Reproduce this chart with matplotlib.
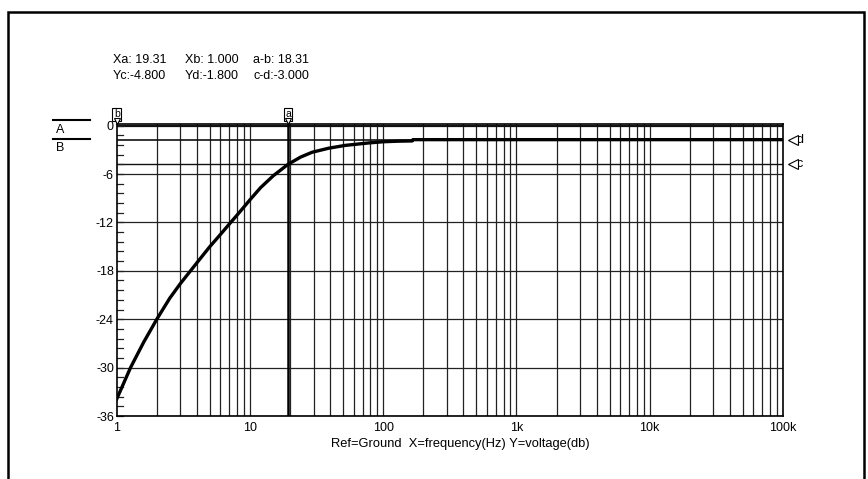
import matplotlib
matplotlib.use("Agg")
import matplotlib.pyplot as plt
import matplotlib.transforms as mtransforms
import numpy as np
from matplotlib.patches import Rectangle

plt.rcParams['font.family'] = ['Liberation Sans', 'DejaVu Sans']

# curve: frequency (Hz) and voltage (dB)
freq = [1, 1.27, 1.6, 2, 2.5, 3, 4, 5, 6, 7, 8, 10, 12, 15, 19.31,
        24, 29.3, 39, 52, 77.6, 100, 130, 165, 167, 1000, 10000, 100000]
volt = [-33.9, -30.0, -26.8, -24.0, -21.4, -19.6, -17.0, -15.0, -13.5, -12.2, -11.1, -9.2, -7.7, -6.2, -4.8,
        -3.9, -3.3, -2.8, -2.45, -2.15, -2.0, -1.93, -1.9, -1.74, -1.74, -1.74, -1.74]

# cursors
xa, xb = 19.31, 1.0
yc, yd = -4.8, -1.8

y_ticks = [0, -6, -12, -18, -24, -30, -36]
x_ticks = [1, 10, 100, 1000, 10000, 100000]
x_labels = ['1', '10', '100', '1k', '10k', '100k']

W, H = 868, 479
fig = plt.figure(figsize=(W / 100, H / 100), dpi=100)
ax = fig.add_axes([116.7 / W, 63 / H, 666.3 / W, 292 / H])

ax.set_xscale('log')
ax.set_xlim(1, 100000)
ax.set_ylim(-36, 0.2)

# grid: every 1..9 per decade, every 6 dB
for dec in range(5):
    for m in range(1, 10):
        f = m * 10 ** dec
        if f > 1:
            ax.axvline(f, color='#222222', lw=0.9, zorder=1)
for y in y_ticks[1:]:
    ax.axhline(y, color='#222222', lw=0.9, zorder=1)
ax.axhline(0, color='#111111', lw=1.6, zorder=1)
# cursor lines c and d
ax.axhline(yc, color='#111111', lw=1.0, zorder=1)
ax.axhline(yd, color='#111111', lw=1.2, zorder=1)
# cursor a
ax.axvline(xa, color='black', lw=1.8, zorder=2)

ax.plot(freq, volt, color='black', lw=2.4, zorder=3, solid_joinstyle='round')

# small y ticks every 1.2 dB inside
for y in np.arange(-36, 0.01, 1.2):
    ax.plot([1, 1.12], [y, y], color='#222222', lw=0.9, zorder=2, clip_on=False)

ax.set_yticks(y_ticks)
ax.set_yticklabels([str(v) for v in y_ticks])
ax.set_xticks(x_ticks)
ax.set_xticklabels(x_labels)
ax.minorticks_off()
ax.tick_params(length=0, labelsize=9, pad=2)
ax.tick_params(axis='x', pad=4)
for s in ax.spines.values():
    s.set_linewidth(1.2)

ax.set_xlabel('Ref=Ground  X=frequency(Hz) Y=voltage(db)', fontsize=9.3)
ax.xaxis.set_label_coords((460 - 116.7) / 666.3, -0.075)

# cursor markers on top (a, b)
tr = ax.get_xaxis_transform()
for xv, lab in [(xb, 'b'), (xa, 'a')]:
    ax.annotate(lab, xy=(xv, 1.0), xycoords=tr, xytext=(0, 7), textcoords='offset points',
                ha='center', va='center', fontsize=7.5,
                bbox=dict(boxstyle='square,pad=0.15', fc='white', ec='black', lw=0.8),
                annotation_clip=False)
    ax.plot([xv], [1.0], marker='v', ms=5, mfc='white', mec='black', mew=0.8,
            transform=tr + mtransforms.ScaledTranslation(0, 2 / 72, fig.dpi_scale_trans),
            clip_on=False, zorder=4)

# cursor markers on the right (c, d)
ytr = ax.get_yaxis_transform()
for yv, lab in [(yd, 'd'), (yc, 'c')]:
    ax.plot([1.0], [yv], marker='<', ms=7, mfc='white', mec='black', mew=0.8,
            transform=ytr + mtransforms.ScaledTranslation(7 / 72, 0, fig.dpi_scale_trans),
            clip_on=False, zorder=4)
    ax.annotate(lab, xy=(1.0, yv), xycoords=ytr, xytext=(10, 0), textcoords='offset points',
                ha='left', va='center', fontsize=9, annotation_clip=False)

# cursor readout
for x, t1, t2 in [(113, 'Xa: 19.31', 'Yc:-4.800'), (185, 'Xb: 1.000', 'Yd:-1.800'),
                  (253, 'a-b: 18.31', 'c-d:-3.000')]:
    fig.text(x / W, 1 - 60 / H, t1, fontsize=9, va='center')
    fig.text(x / W, 1 - 76 / H, t2, fontsize=9, va='center')

# A / B trace labels
fig.add_artist(plt.Line2D([53 / W, 90 / W], [1 - 120 / H, 1 - 120 / H], color='black', lw=1.5))
fig.add_artist(plt.Line2D([53 / W, 90 / W], [1 - 139 / H, 1 - 139 / H], color='black', lw=1.5))
fig.text(56 / W, 1 - 130 / H, 'A', fontsize=9, va='center')
fig.text(56 / W, 1 - 148 / H, 'B', fontsize=9, va='center')

# outer frame
fig.add_artist(Rectangle((8 / W, -0.1), 856 / W, 1.1 - 12 / H, transform=fig.transFigure,
                         fill=False, ec='black', lw=1.8))

fig.savefig('out.png', dpi=100)
